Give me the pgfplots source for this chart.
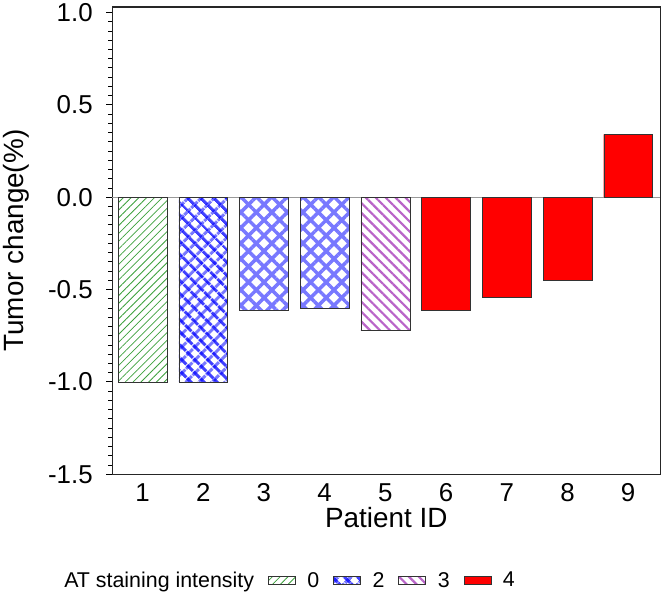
\documentclass[border=0pt]{standalone}
\usepackage{fontspec}
\setmainfont{Liberation Sans}
\usepackage{pgfplots}
\pgfplotsset{compat=1.18}
\usetikzlibrary{patterns.meta}

\definecolor{hgreen}{RGB}{60,160,60}
\definecolor{hblue}{RGB}{120,120,255}
\definecolor{hpurple}{RGB}{185,100,200}

\tikzset{
  pat0/.style={draw=black!80, pattern={Lines[angle=45,distance=5.5bp,line width=0.8bp]}, pattern color=hgreen},
  pat2a/.style={draw=black!80, pattern={Lines[angle=45,distance=9.5bp,line width=3.4bp]}, pattern color=hblue},
  pat2b/.style={draw=black!80, pattern={Lines[angle=-45,distance=9.5bp,line width=3.4bp]}, pattern color=blue, fill opacity=0.75},
  patx/.style={draw=black!80, pattern={Hatch[angle=45,distance=11bp,line width=3.5bp]}, pattern color=hblue},
  pat3/.style={draw=black!80, pattern={Lines[angle=-45,distance=7bp,line width=2.2bp]}, pattern color=hpurple},
  pat4/.style={draw=black!80, fill=red},
}

\begin{document}
\begin{tikzpicture}
\begin{axis}[
  scale only axis,
  width=549bp, height=468bp,
  xmin=0.5, xmax=9.53,
  ymin=-1.5, ymax=1.03,
  xtick={1,2,3,4,5,6,7,8,9},
  ytick={-1.5,-1,-0.5,0,0.5,1},
  minor y tick num=9,
  yticklabel style={/pgf/number format/fixed, /pgf/number format/fixed zerofill, /pgf/number format/precision=1, xshift=-10bp},
  /pgf/number format/assume math mode=true,
  ticklabel style={font=\fontsize{26}{28}\selectfont},
  x tick style={draw=none},
  y tick style={black, line width=0.8bp},
  tick align=outside,
  major tick length=6bp, minor tick length=4bp,
  ytick pos=left,
  axis line style={line width=1.3bp, black!85},
  xlabel={Patient ID},
  ylabel={Tumor change(\%)},
  label style={font=\fontsize{28}{30}\selectfont},
  xlabel style={yshift=2bp},
  extra y ticks={0},
  extra y tick style={grid=major, major grid style={gray!80, line width=1bp}, tick style={draw=none}, yticklabels={}},
  ybar, bar width=49bp, bar shift=0pt,
  legend columns=-1,
  legend style={draw=none, fill=none, at={(-0.115,-0.2)}, anchor=north west,
    font=\fontsize{21.5}{23}\selectfont,
    /tikz/every odd column/.append style={column sep=10bp},
    /tikz/every even column/.append style={column sep=12bp}},
]
\addplot[pat0, forget plot] coordinates {(1,-1.0)};
\addplot[pat2a, forget plot] coordinates {(2,-1.0)};
\addplot[pat2b, forget plot] coordinates {(2,-1.0)};
\addplot[patx, forget plot] coordinates {(3,-0.61) (4,-0.60)};
\addplot[pat3, forget plot] coordinates {(5,-0.72)};
\addplot[pat4, forget plot] coordinates {(6,-0.61) (7,-0.54) (8,-0.45) (9,0.34)};

\addlegendimage{empty legend}
\addlegendentry{AT staining intensity\hspace{14bp}}
\addlegendimage{legend image code/.code={\draw[pat0] (0bp,-4bp) rectangle (27bp,4bp);}}
\addlegendentry{0}
\addlegendimage{legend image code/.code={\draw[pat2a] (0bp,-4bp) rectangle (27bp,4bp); \draw[pat2b] (0bp,-4bp) rectangle (27bp,4bp);}}
\addlegendentry{2}
\addlegendimage{legend image code/.code={\draw[pat3] (0bp,-4bp) rectangle (27bp,4bp);}}
\addlegendentry{3}
\addlegendimage{legend image code/.code={\draw[pat4] (0bp,-4bp) rectangle (27bp,4bp);}}
\addlegendentry{4}
\end{axis}
\end{tikzpicture}
\end{document}
